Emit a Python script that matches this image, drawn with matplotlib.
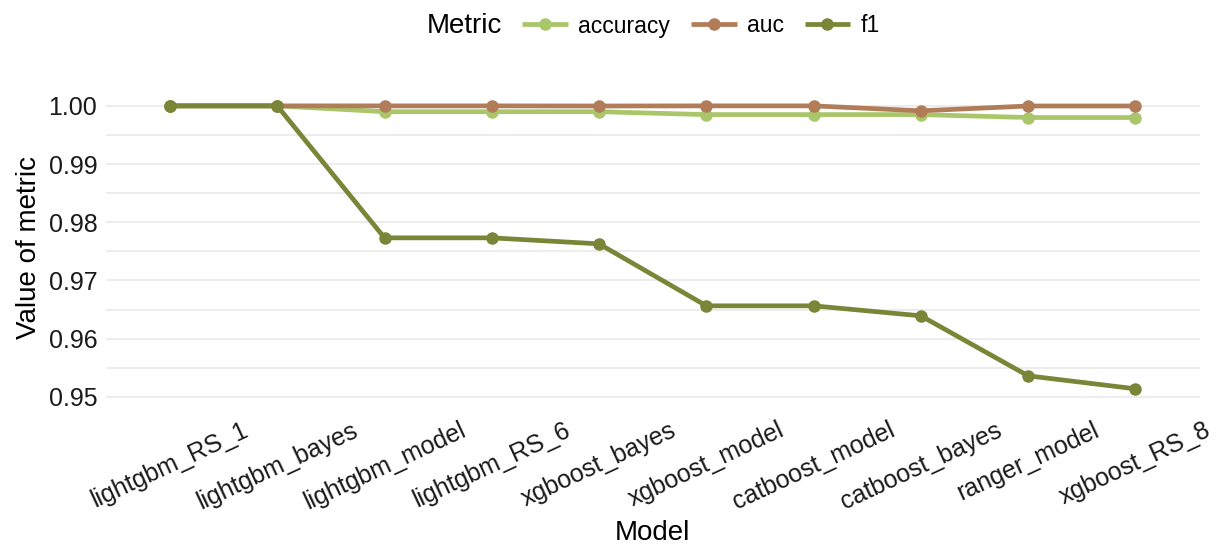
import numpy as np
import matplotlib.pyplot as plt
from matplotlib.ticker import MultipleLocator

plt.rcParams['font.family'] = ['Liberation Sans', 'DejaVu Sans']

models = ['lightgbm_RS_1', 'lightgbm_bayes', 'lightgbm_model', 'lightgbm_RS_6',
          'xgboost_bayes', 'xgboost_model', 'catboost_model', 'catboost_bayes',
          'ranger_model', 'xgboost_RS_8']
accuracy = [1.0, 1.0, 0.9990, 0.9990, 0.9990, 0.9985, 0.9985, 0.9985, 0.9980, 0.9980]
auc = [1.0, 1.0, 1.0, 1.0, 0.99998, 1.0, 1.0, 0.99915, 0.99998, 0.99998]
f1 = [1.0, 1.0, 0.97732, 0.97732, 0.97629, 0.96564, 0.96564, 0.96392, 0.95361, 0.95138]

metrics = ['accuracy', 'auc', 'f1']
values = [accuracy, auc, f1]
colors = ['#A9C76A', '#B17C58', '#7A8538']

fig = plt.figure(figsize=(12.28, 5.46), dpi=100)
ax = fig.add_axes([0.086, 0.262, 0.891, 0.57])

x = np.arange(len(models))
for name, vals, c in zip(metrics, values, colors):
    ax.plot(x, vals, color=c, lw=3.4, marker='o', markersize=8, label=name,
            solid_capstyle='butt')

lo = min(min(v) for v in values)
hi = max(max(v) for v in values)
pad = (hi - lo) * 0.05
ax.set_ylim(lo - pad, hi + pad)
ax.set_xlim(-0.6, len(models) - 0.4)

ax.yaxis.set_major_locator(MultipleLocator(0.01))
ax.yaxis.set_minor_locator(MultipleLocator(0.005))
ax.yaxis.set_major_formatter(plt.FormatStrFormatter('%.2f'))
ax.grid(axis='y', which='both', color='#EBEBEB', lw=1.3)
ax.set_axisbelow(True)
for s in ax.spines.values():
    s.set_visible(False)
ax.tick_params(which='both', length=0, labelsize=18, labelcolor='#1a1a1a')
ax.tick_params(axis='y', pad=6)
ax.tick_params(axis='x', pad=11)
ax.set_xticks(x)
ax.set_xticklabels(models, rotation=25, ha='center', va='top')
ax.set_xlabel('Model', fontsize=20, labelpad=4)
ax.set_ylabel('Value of metric', fontsize=20, labelpad=5)

fig.text(502 / 1228, 1 - 26 / 546, 'Metric', fontsize=20, ha='right', va='center')
handles, labels = ax.get_legend_handles_labels()
fig.legend(handles, labels, loc='center', bbox_to_anchor=(701 / 1228, 1 - 26 / 546),
           ncol=3, frameon=False, fontsize=16.5, handlelength=2.0,
           handletextpad=0.45, columnspacing=0.9)

fig.savefig('out.png', dpi=100)
